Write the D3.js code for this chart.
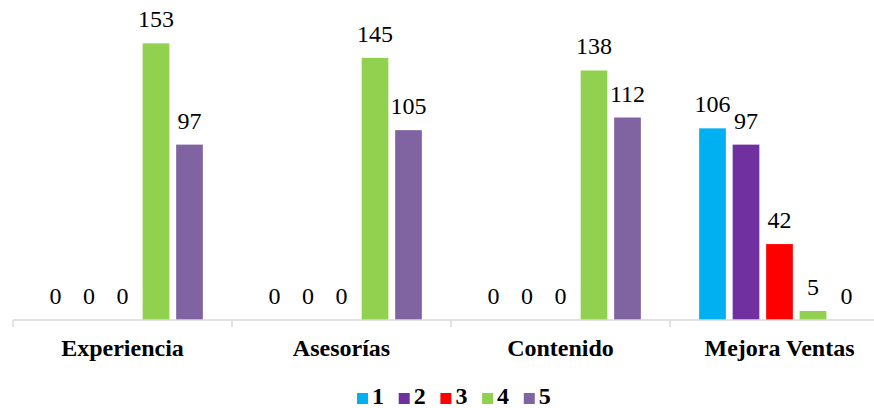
<!DOCTYPE html>
<html>
<head>
<meta charset="utf-8">
<script src="https://cdn.jsdelivr.net/npm/d3@7"></script>
<style>
  svg, svg text { font-family: "Liberation Serif", "Times New Roman", Tinos, FreeSerif, serif; }
</style>
</head>
<body style="margin:0;background:#fff">
<svg id="chart" width="874" height="408"></svg>
<script>
// Categories along the x axis
const categories = ["Experiencia", "Asesorías", "Contenido", "Mejora Ventas"];
// Response levels shown in the legend
const seriesNames = ["1", "2", "3", "4", "5"];
const seriesColors = ["#00B0F0", "#7030A0", "#FF0000", "#92D050", "#8064A2"];
// Counts per category, one array per level
const level1 = [0, 0, 0, 106];
const level2 = [0, 0, 0, 97];
const level3 = [0, 0, 0, 42];
const level4 = [153, 145, 138, 5];
const level5 = [97, 105, 112, 0];

const seriesValues = [level1, level2, level3, level4, level5];

const FONT = '"Liberation Serif", "Times New Roman", Tinos, FreeSerif, serif';

const svg = d3.select("#chart")
  .attr("font-family", FONT)
  .style("font-family", FONT);
const baseY = 320;

const x0 = d3.scaleBand()
  .domain(categories)
  .range([13, 889])
  .paddingInner(0)
  .paddingOuter(0);

const x1 = d3.scaleBand()
  .domain(seriesNames)
  .range([0, x0.bandwidth()])
  .paddingInner(0.203)
  .paddingOuter(0.87);

const y = d3.scaleLinear()
  .domain([0, 160])
  .range([baseY, baseY - 160 * 1.808]);

// Bars
categories.forEach((cat, ci) => {
  const g = svg.append("g").attr("transform", `translate(${x0(cat)},0)`);
  seriesNames.forEach((s, si) => {
    const v = seriesValues[si][ci];
    if (v > 0) {
      g.append("rect")
        .attr("x", x1(s))
        .attr("y", y(v))
        .attr("width", x1.bandwidth())
        .attr("height", y(0) - y(v))
        .attr("fill", seriesColors[si]);
    }
  });
});

// Value labels above each bar position
categories.forEach((cat, ci) => {
  seriesNames.forEach((s, si) => {
    const v = seriesValues[si][ci];
    svg.append("text")
      .attr("x", x0(cat) + x1(s) + x1.bandwidth() / 2)
      .attr("y", y(v) - 16)
      .attr("text-anchor", "middle")
      .attr("font-family", FONT)
      .style("font-family", FONT)
      .attr("font-size", 24)
      .attr("fill", "#000")
      .text(v);
  });
});

// Category axis line and separators
const axis = svg.append("g").attr("transform", `translate(0,${baseY})`);
axis.append("line")
  .attr("x1", 13).attr("x2", 874)
  .attr("y1", 0).attr("y2", 0)
  .attr("stroke", "#D9D9D9").attr("stroke-width", 1.5);

axis.selectAll("line.sep").data(categories).enter().append("line")
  .attr("class", "sep")
  .attr("x1", d => x0(d)).attr("x2", d => x0(d))
  .attr("y1", 0).attr("y2", 7)
  .attr("stroke", "#D9D9D9").attr("stroke-width", 1.5);

// Category names
categories.forEach(cat => {
  svg.append("text")
    .attr("x", x0(cat) + x0.bandwidth() / 2)
    .attr("y", baseY + 36)
    .attr("text-anchor", "middle")
    .attr("font-family", FONT)
    .style("font-family", FONT)
    .attr("font-size", 24)
    .attr("font-weight", "bold")
    .attr("fill", "#000")
    .text(cat);
});

// Legend
seriesNames.forEach((s, i) => {
  const lx = 357 + i * 41.7;
  svg.append("rect")
    .attr("x", lx).attr("y", 393)
    .attr("width", 11).attr("height", 11)
    .attr("fill", seriesColors[i]);
  svg.append("text")
    .attr("x", lx + 15).attr("y", 404)
    .attr("font-family", FONT)
    .style("font-family", FONT)
    .attr("font-size", 24)
    .attr("font-weight", "bold")
    .attr("fill", "#000")
    .text(s);
});
</script>
</body>
</html>
